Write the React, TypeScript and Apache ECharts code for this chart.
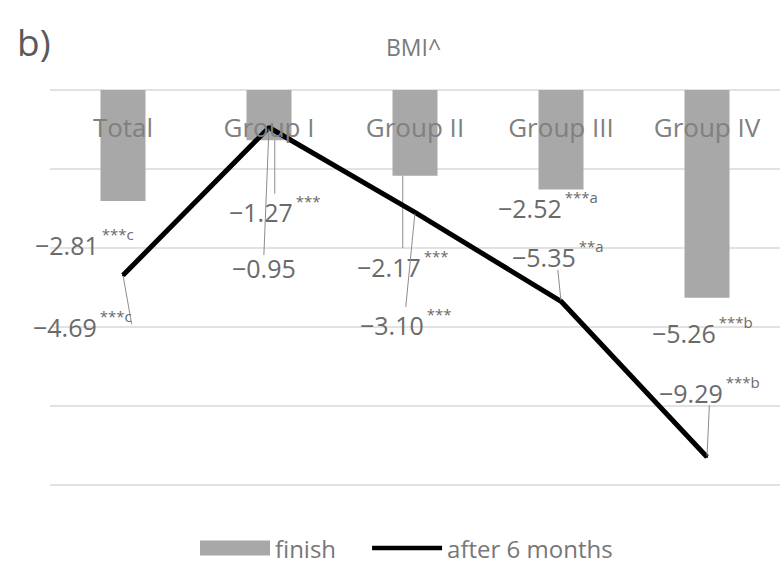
import React, { useEffect, useRef } from "react";
import * as echarts from "echarts";

const categories = ["Total", "Group I", "Group II", "Group III", "Group IV"];
const finishValues = [-2.81, -1.27, -2.17, -2.52, -5.26];
const finishSig = ["***c", "***", "***", "***a", "***b"];
const sixMonthValues = [-4.69, -0.95, -3.1, -5.35, -9.29];
const sixMonthSig = ["***c", "", "***", "**a", "***b"];
const yMin = -10;
const yMax = 0;
const yInterval = 2;

const FONT = "Open Sans";
const LABEL_COLOR = "#6a6a6a";

const fmt = (v: number) => v.toFixed(2).replace("-", "\u2212");

export default function App() {
  const ref = useRef<HTMLDivElement>(null);
  useEffect(() => {
    if (!ref.current) return;
    const chart = echarts.init(ref.current, null, { renderer: "svg" });

    const barOffsets = [[-88, 44], [-40, 72], [-58, 91], [-63, 18], [-55, 35]];
    const lineOffsets = [[-90, 52], [-37, 140], [-55, 113], [-49, -44], [-48, -64]];
    const barLeader = [false, true, true, false, false];
    const lineLeader = [true, true, true, true, true];

    const rich = {
      v: { fontSize: 25, color: LABEL_COLOR, fontFamily: FONT },
      s: { fontSize: 15, color: LABEL_COLOR, fontFamily: FONT, padding: [0, 0, 22, 3] },
    };
    const makeFormatter = (sig: string[]) => (p: any) =>
      sig[p.dataIndex] ? `{v|${fmt(p.value)}}{s|${sig[p.dataIndex]}}` : `{v|${fmt(p.value)}}`;

    const makeLayout = (offsets: number[][], isBar: boolean) => (params: any) => {
      const r = params.rect;
      const i = params.dataIndex;
      const ax = r.x + r.width / 2;
      const ay = isBar ? Math.max(r.y, r.y + r.height) : r.y + r.height / 2;
      return { x: ax + offsets[i][0], y: ay + offsets[i][1], align: "left", verticalAlign: "middle" };
    };

    chart.setOption({
      animation: false,
      textStyle: { fontFamily: FONT },
      title: {
        text: "BMI^",
        left: 381,
        top: 30,
        textStyle: { fontSize: 23, fontWeight: "normal", color: "#7a7a7a", fontFamily: FONT },
      },
      graphic: [
        {
          type: "text",
          left: 17,
          top: 23,
          style: { text: "b)", fontSize: 37, fill: "#5a5a5a", fontFamily: FONT },
        },
      ],
      legend: {
        left: 195,
        top: 531,
        itemWidth: 70,
        itemHeight: 15,
        itemGap: 36,
        textStyle: { fontSize: 24, color: "#777", fontFamily: FONT },
        data: [
          { name: "finish", icon: "rect" },
          { name: "after 6 months", icon: "path://M0 0H78V5H0Z" },
        ],
      },
      grid: { left: 50, width: 730, top: 90, bottom: 84 },
      xAxis: {
        type: "category",
        data: categories,
        position: "top",
        z: 10,
        axisLine: { show: false },
        axisTick: { show: false },
        axisLabel: { inside: true, margin: 24, fontSize: 26, color: "#808080", fontFamily: FONT },
      },
      yAxis: {
        type: "value",
        min: yMin,
        max: yMax,
        interval: yInterval,
        axisLabel: { show: false },
        axisLine: { show: false },
        axisTick: { show: false },
        splitLine: { lineStyle: { color: "#d9d9d9", width: 1.5 } },
      },
      series: [
        {
          name: "finish",
          type: "bar",
          barWidth: 45,
          itemStyle: { color: "#a8a8a8" },
          data: finishValues.map((v, i) => ({ value: v, labelLine: { show: barLeader[i] } })),
          label: {
            show: true,
            formatter: makeFormatter(finishSig),
            rich,
          },
          labelLine: { show: true, lineStyle: { color: "#8c8c8c", width: 1 } },
          labelLayout: makeLayout(barOffsets, true),
        },
        {
          name: "after 6 months",
          type: "line",
          symbol: "circle",
          symbolSize: 2,
          itemStyle: { color: "#000" },
          lineStyle: { color: "#000", width: 5 },
          data: sixMonthValues.map((v, i) => ({ value: v, labelLine: { show: lineLeader[i] } })),
          label: {
            show: true,
            formatter: makeFormatter(sixMonthSig),
            rich,
          },
          labelLine: { show: true, lineStyle: { color: "#8c8c8c", width: 1 } },
          labelLayout: makeLayout(lineOffsets, false),
        },
      ],
    });
    return () => chart.dispose();
  }, []);
  return (
    <div
      ref={ref}
      style={{ position: "fixed", left: 0, top: 0, width: 780, height: 569, background: "#fff" }}
    />
  );
}
